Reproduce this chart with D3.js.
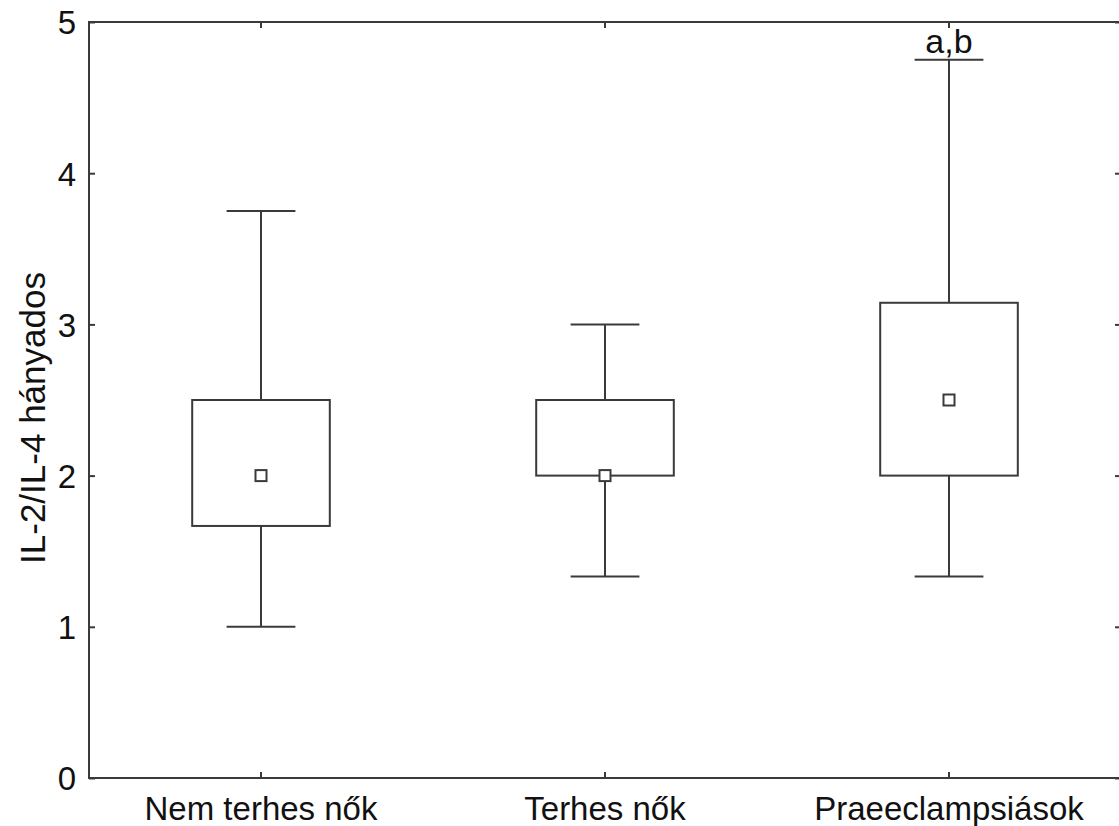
<!DOCTYPE html>
<html>
<head>
<meta charset="utf-8">
<script src="https://cdn.jsdelivr.net/npm/d3@7"></script>
<style>
  html, body { margin: 0; padding: 0; background: #fff; overflow: hidden; }
  svg { display: block; }
  text { font-family: "Liberation Sans", Arial, sans-serif; fill: #111; }
</style>
</head>
<body>
<svg id="chart" width="1119" height="826"></svg>
<script>
// Groups and box-plot statistics (IL-2/IL-4 ratio)
const categories = ["Nem terhes nők", "Terhes nők", "Praeeclampsiások"];
const whiskerLow = [1.0, 1.333, 1.333];
const boxLow     = [1.667, 2.0, 2.0];
const medians    = [2.0, 2.0, 2.5];
const boxHigh    = [2.5, 2.5, 3.143];
const whiskerHigh = [3.75, 3.0, 4.75];
const annotations = ["", "", "a,b"];
const yTicks = [0, 1, 2, 3, 4, 5];
const yTitle = "IL-2/IL-4 hányados";

const svg = d3.select("#chart");
const plotLeft = 89, plotRight = 1121, plotTop = 22, plotBottom = 778;
const ink = "#3a3a3a";

const x = d3.scaleBand().domain(categories).range([plotLeft, plotRight]).paddingInner(0).paddingOuter(0);
const y = d3.scaleLinear().domain([0, 5]).range([plotBottom, plotTop]);
const cx = c => x(c) + x.bandwidth() / 2;
const boxW = x.bandwidth() * 0.4;
const capW = boxW / 2;

const data = categories.map((c, i) => ({
  c, lo: whiskerLow[i], q1: boxLow[i], med: medians[i], q3: boxHigh[i], hi: whiskerHigh[i], note: annotations[i]
}));

// Frame
svg.append("rect")
  .attr("x", plotLeft).attr("y", plotTop)
  .attr("width", plotRight - plotLeft).attr("height", plotBottom - plotTop)
  .attr("fill", "none").attr("stroke", ink).attr("stroke-width", 2);

// Axes with inward ticks
const yAxisL = d3.axisLeft(y).tickValues(yTicks).tickSize(-6).tickPadding(13).tickFormat(d3.format("d"));
const gL = svg.append("g").attr("transform", `translate(${plotLeft},0)`).call(yAxisL);
const yAxisR = d3.axisRight(y).tickValues(yTicks).tickSize(-6).tickFormat("");
const gR = svg.append("g").attr("transform", `translate(${plotRight},0)`).call(yAxisR);
const xAxisB = d3.axisBottom(x).tickSize(-6);
const gB = svg.append("g").attr("transform", `translate(0,${plotBottom})`).call(xAxisB);
const xAxisT = d3.axisTop(x).tickSize(-6).tickFormat("");
const gT = svg.append("g").attr("transform", `translate(0,${plotTop})`).call(xAxisT);

[gL, gR, gB, gT].forEach(g => {
  g.select(".domain").remove();
  g.selectAll(".tick line").attr("stroke", ink).attr("stroke-width", 2);
  g.selectAll(".tick text").attr("fill", "#111");
});
gL.selectAll(".tick text").style("font-size", "33px").attr("dy", "0.36em");
gB.selectAll(".tick text").style("font-size", "33px").attr("y", 42).attr("dy", 0);

// Y axis title
svg.append("text")
  .attr("transform", `translate(45,418) rotate(-90)`)
  .attr("text-anchor", "middle")
  .style("font-size", "35px")
  .text(yTitle);

// Boxes and whiskers
const g = svg.append("g").attr("stroke", ink).attr("stroke-width", 2).attr("fill", "none");
const items = g.selectAll("g.box").data(data).join("g").attr("class", "box");

items.append("line")
  .attr("x1", d => cx(d.c)).attr("x2", d => cx(d.c))
  .attr("y1", d => y(d.q3)).attr("y2", d => y(d.hi));
items.append("line")
  .attr("x1", d => cx(d.c)).attr("x2", d => cx(d.c))
  .attr("y1", d => y(d.q1)).attr("y2", d => y(d.lo));
items.append("line")
  .attr("x1", d => cx(d.c) - capW / 2).attr("x2", d => cx(d.c) + capW / 2)
  .attr("y1", d => y(d.hi)).attr("y2", d => y(d.hi));
items.append("line")
  .attr("x1", d => cx(d.c) - capW / 2).attr("x2", d => cx(d.c) + capW / 2)
  .attr("y1", d => y(d.lo)).attr("y2", d => y(d.lo));
items.append("rect")
  .attr("x", d => cx(d.c) - boxW / 2).attr("width", boxW)
  .attr("y", d => y(d.q3)).attr("height", d => y(d.q1) - y(d.q3))
  .attr("fill", "#fff");
items.append("rect")
  .attr("x", d => cx(d.c) - 5.5).attr("y", d => y(d.med) - 5.5)
  .attr("width", 11).attr("height", 11)
  .attr("fill", "#fff");

// Significance labels above the upper whisker
svg.selectAll("text.note").data(data.filter(d => d.note)).join("text")
  .attr("class", "note")
  .attr("x", d => cx(d.c)).attr("y", d => y(d.hi) - 7)
  .attr("text-anchor", "middle")
  .style("font-size", "34px")
  .text(d => d.note);
</script>
</body>
</html>
